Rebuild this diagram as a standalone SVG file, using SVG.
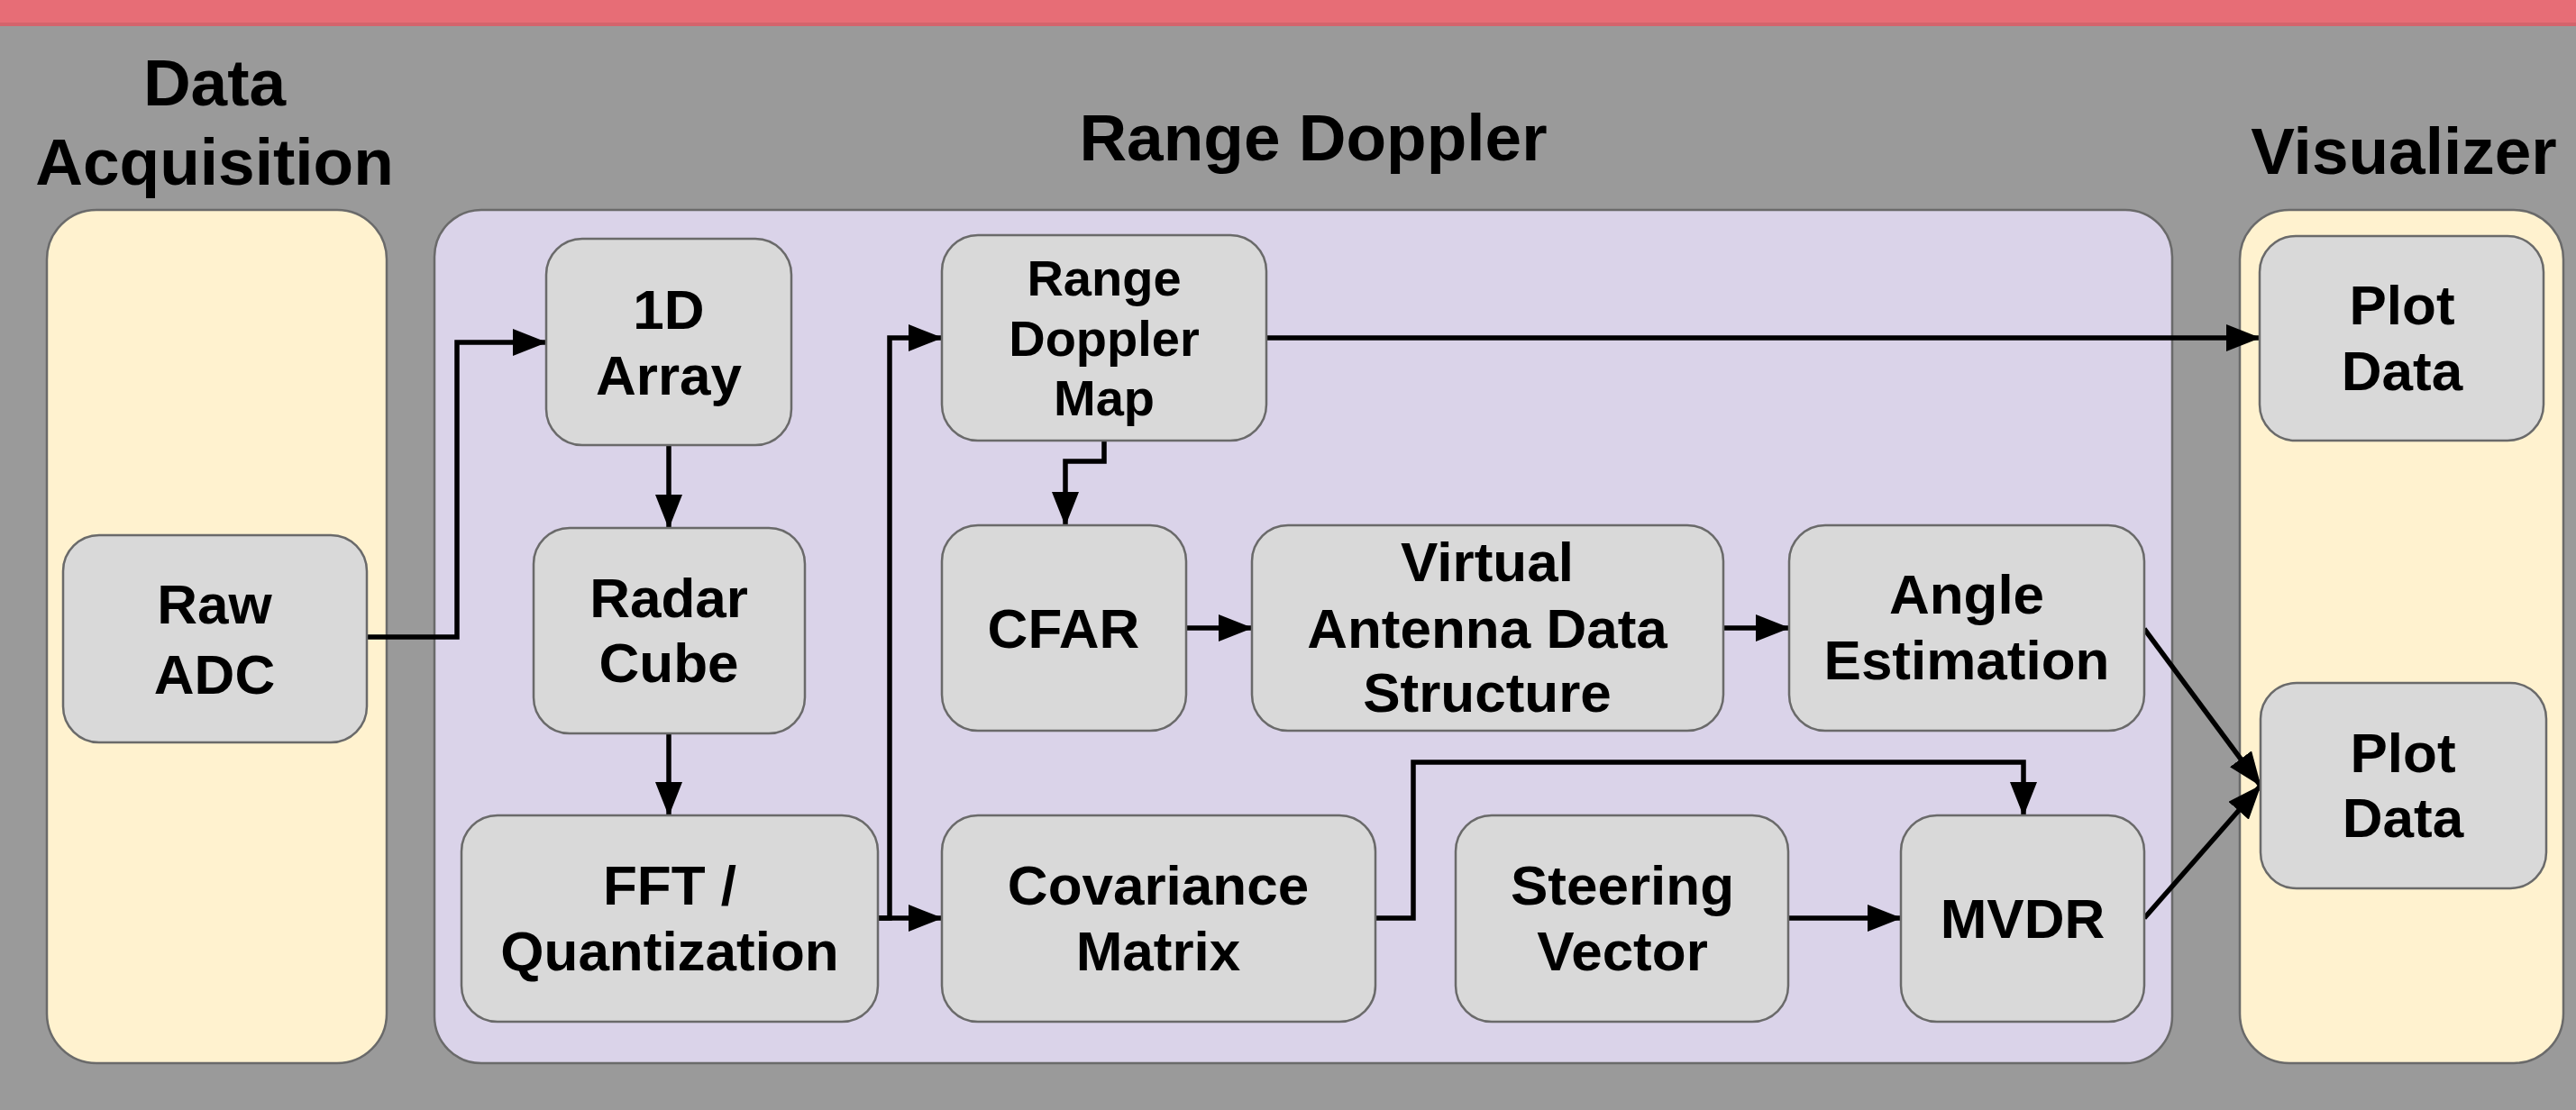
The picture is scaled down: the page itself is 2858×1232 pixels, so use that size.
<svg xmlns="http://www.w3.org/2000/svg" width="2858" height="1232" viewBox="0 0 2858 1232">
<defs>
<style>
.bg{fill:#9a9a9a}
.lane{stroke:#6a6a6a;stroke-width:2.5}
.cream{fill:#fff2cf}
.lav{fill:#dad3e9}
.node rect{fill:#d9d9d9;stroke:#6a6a6a;stroke-width:2.5}
.t{font-family:"Liberation Sans",Arial,sans-serif;font-weight:bold;fill:#000;text-anchor:middle}
.title{font-size:73px}
.lbl{font-size:62px}
.sm{font-size:56px}
.c{fill:none;stroke:#000;stroke-width:5.5}
</style>
<marker id="ah" markerUnits="userSpaceOnUse" markerWidth="38" markerHeight="30" refX="37" refY="15" orient="auto">
<path d="M0,0 L38,15 L0,30 z" fill="#000"/>
</marker>
</defs>
<rect class="bg" x="0" y="0" width="2858" height="1232"/>
<rect x="0" y="0" width="2858" height="29" fill="#e76d76"/>
<rect x="0" y="25" width="2858" height="4" fill="#d4646c"/>

<g id="lane-data-acquisition">
<rect class="lane cream" x="52" y="233" width="377" height="947" rx="55"/>
<text class="t title" x="238" y="117">Data</text>
<text class="t title" x="238" y="205">Acquisition</text>
</g>
<g id="lane-range-doppler">
<rect class="lane lav" x="482" y="233" width="1928" height="947" rx="52"/>
<text class="t title" x="1457" y="178">Range Doppler</text>
</g>
<g id="lane-visualizer">
<rect class="lane cream" x="2485" y="233" width="359" height="947" rx="55"/>
<text class="t title" x="2667" y="193">Visualizer</text>
</g>

<g id="connectors">
<path class="c" d="M407,707 H507 V380 H606" marker-end="url(#ah)"/>
<path class="c" d="M742,494 V586" marker-end="url(#ah)"/>
<path class="c" d="M742,814 V905" marker-end="url(#ah)"/>
<path class="c" d="M974,1019 H987 V375 H1045" marker-end="url(#ah)"/>
<path class="c" d="M974,1019 H1045" marker-end="url(#ah)"/>
<path class="c" d="M1405,375 H2507" marker-end="url(#ah)"/>
<path class="c" d="M1225,489 V512 H1182 V583" marker-end="url(#ah)"/>
<path class="c" d="M1316,697 H1389" marker-end="url(#ah)"/>
<path class="c" d="M1912,697 H1985" marker-end="url(#ah)"/>
<path class="c" d="M2379,698 L2508,872" marker-end="url(#ah)"/>
<path class="c" d="M2379,1019 L2508,872" marker-end="url(#ah)"/>
<path class="c" d="M1526,1019 H1568 V846 H2245 V905" marker-end="url(#ah)"/>
<path class="c" d="M1984,1019 H2109" marker-end="url(#ah)"/>
</g>

<g id="raw-adc" class="node">
<rect x="70" y="594" width="337" height="230" rx="40"/>
<text class="t lbl" x="238" y="692">Raw</text>
<text class="t lbl" x="238" y="770">ADC</text>
</g>
<g id="array-1d" class="node">
<rect x="606" y="265" width="272" height="229" rx="40"/>
<text class="t lbl" x="742" y="365">1D</text>
<text class="t lbl" x="742" y="438">Array</text>
</g>
<g id="radar-cube" class="node">
<rect x="592" y="586" width="301" height="228" rx="40"/>
<text class="t lbl" x="742" y="685">Radar</text>
<text class="t lbl" x="742" y="757">Cube</text>
</g>
<g id="fft-quantization" class="node">
<rect x="512" y="905" width="462" height="229" rx="40"/>
<text class="t lbl" x="743" y="1004">FFT /</text>
<text class="t lbl" x="743" y="1077">Quantization</text>
</g>
<g id="range-doppler-map" class="node">
<rect x="1045" y="261" width="360" height="228" rx="40"/>
<text class="t sm" x="1225" y="328">Range</text>
<text class="t sm" x="1225" y="395">Doppler</text>
<text class="t sm" x="1225" y="461">Map</text>
</g>
<g id="cfar" class="node">
<rect x="1045" y="583" width="271" height="228" rx="40"/>
<text class="t lbl" x="1180" y="719">CFAR</text>
</g>
<g id="virtual-antenna" class="node">
<rect x="1389" y="583" width="523" height="228" rx="40"/>
<text class="t lbl" x="1650" y="645">Virtual</text>
<text class="t lbl" x="1650" y="719">Antenna Data</text>
<text class="t lbl" x="1650" y="790">Structure</text>
</g>
<g id="angle-estimation" class="node">
<rect x="1985" y="583" width="394" height="228" rx="40"/>
<text class="t lbl" x="2182" y="681">Angle</text>
<text class="t lbl" x="2182" y="754">Estimation</text>
</g>
<g id="covariance-matrix" class="node">
<rect x="1045" y="905" width="481" height="229" rx="40"/>
<text class="t lbl" x="1285" y="1004">Covariance</text>
<text class="t lbl" x="1285" y="1077">Matrix</text>
</g>
<g id="steering-vector" class="node">
<rect x="1615" y="905" width="369" height="229" rx="40"/>
<text class="t lbl" x="1800" y="1004">Steering</text>
<text class="t lbl" x="1800" y="1077">Vector</text>
</g>
<g id="mvdr" class="node">
<rect x="2109" y="905" width="270" height="229" rx="40"/>
<text class="t lbl" x="2244" y="1041">MVDR</text>
</g>
<g id="plot-data-1" class="node">
<rect x="2507" y="262" width="315" height="227" rx="40"/>
<text class="t lbl" x="2665" y="360">Plot</text>
<text class="t lbl" x="2665" y="433">Data</text>
</g>
<g id="plot-data-2" class="node">
<rect x="2508" y="758" width="317" height="228" rx="40"/>
<text class="t lbl" x="2666" y="857">Plot</text>
<text class="t lbl" x="2666" y="929">Data</text>
</g>
</svg>
